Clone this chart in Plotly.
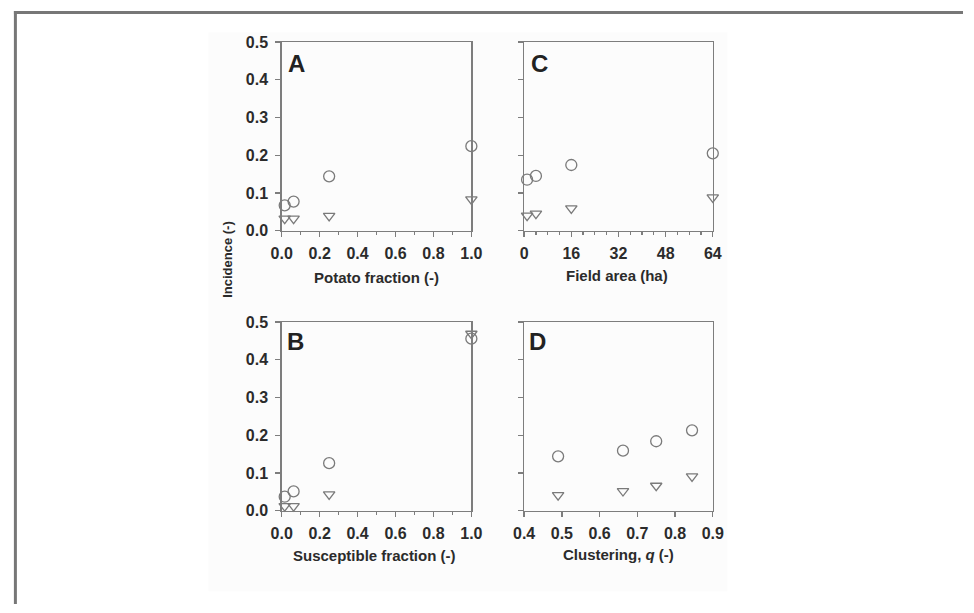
import plotly.graph_objects as go

# ---- data ----
potato_fraction = [1/64, 1/16, 0.25, 1.0]
potato_circ = [0.067, 0.077, 0.144, 0.224]
potato_tri = [0.032, 0.032, 0.039, 0.083]

field_area = [1, 4, 16, 64]
field_circ = [0.135, 0.145, 0.174, 0.205]
field_tri = [0.040, 0.045, 0.059, 0.088]

susc_fraction = [1/64, 1/16, 0.25, 1.0]
susc_circ = [0.037, 0.051, 0.126, 0.456]
susc_tri = [0.012, 0.012, 0.043, 0.469]

clustering = [0.49, 0.662, 0.75, 0.845]
clust_circ = [0.144, 0.159, 0.184, 0.213]
clust_tri = [0.041, 0.052, 0.066, 0.091]

x_ticks_fraction = [0.0, 0.2, 0.4, 0.6, 0.8, 1.0]
x_ticks_cluster = [0.4, 0.5, 0.6, 0.7, 0.8, 0.9]

W, H = 974, 613
MARK = "#7a7a7a"
AXC = "#7d7d7d"
TXT = "#2b2b2b"
FONT = "Liberation Sans"

def px(x):
    return x / W

def py(y):
    return 1 - y / H

fig = go.Figure()

panels = [
    ("x", "y", potato_fraction, potato_circ, potato_tri),
    ("x2", "y2", field_area, field_circ, field_tri),
    ("x3", "y3", susc_fraction, susc_circ, susc_tri),
    ("x4", "y4", clustering, clust_circ, clust_tri),
]
for xa, ya, xs, c, t in panels:
    fig.add_trace(go.Scatter(x=xs, y=c, mode="markers", xaxis=xa, yaxis=ya,
                             marker=dict(symbol="circle-open", size=11, color=MARK,
                                         line=dict(width=1.3, color=MARK)),
                             showlegend=False, cliponaxis=False, hoverinfo="skip"))
    fig.add_trace(go.Scatter(x=xs, y=t, mode="markers", xaxis=xa, yaxis=ya,
                             marker=dict(symbol="triangle-down-open", size=10, color=MARK,
                                         line=dict(width=1.3, color=MARK)),
                             showlegend=False, cliponaxis=False, hoverinfo="skip"))

tickfont = dict(family=FONT, size=16, color=TXT, weight="bold")

left_dom = [px(277), px(471)]
right_dom = [px(525), px(718)]
top_dom = [py(229), py(35)]
bot_dom = [py(517), py(323)]

def xax(dom, anchor, rng, dtick, minor_dtick, tickvals=None):
    d = dict(domain=dom, anchor=anchor, range=rng, showgrid=False, zeroline=False,
             showline=True, linecolor=AXC, linewidth=1.5, mirror=True,
             ticks="outside", ticklen=5, tickwidth=1.3, tickcolor=AXC,
             tickfont=tickfont, ticklabelstandoff=3)
    if tickvals is not None:
        d["tickvals"] = tickvals
        d["ticktext"] = ["%.1f" % v for v in tickvals]
    else:
        d["dtick"] = dtick
    if minor_dtick:
        d["minor"] = dict(dtick=minor_dtick, ticks="outside", ticklen=3,
                          tickcolor=AXC, tickwidth=1.2, showgrid=False)
    return d

def yax(dom, anchor, labels):
    return dict(domain=dom, anchor=anchor, range=[0, 0.5], dtick=0.1, tickformat=".1f",
                showgrid=False, zeroline=False, showline=True, linecolor=AXC,
                linewidth=1.5, mirror=True, ticks="outside", ticklen=5, tickwidth=1.3,
                tickcolor=AXC, tickfont=tickfont, showticklabels=labels,
                ticklabelstandoff=4)

fig.update_layout(
    width=W, height=H, margin=dict(l=0, r=0, t=0, b=0),
    paper_bgcolor="white", plot_bgcolor="white", hovermode=False,
    xaxis=xax(left_dom, "y", [0, 1], None, 0.1, x_ticks_fraction),
    yaxis=yax(top_dom, "x", True),
    xaxis2=xax(right_dom, "y2", [0, 64], 16, 4),
    yaxis2=yax(top_dom, "x2", False),
    xaxis3=xax(left_dom, "y3", [0, 1], None, 0.1, x_ticks_fraction),
    yaxis3=yax(bot_dom, "x3", True),
    xaxis4=xax(right_dom, "y4", [0.4, 0.9], None, None, x_ticks_cluster),
    yaxis4=yax(bot_dom, "x4", False),
)

# frame and faint scanned background
fig.add_shape(type="rect", xref="paper", yref="paper",
              x0=px(202), x1=px(733), y0=py(600), y1=py(25),
              fillcolor="#fcfcfc", line=dict(width=0), layer="below")
fig.add_shape(type="line", xref="paper", yref="paper", x0=px(3), x1=1.0,
              y0=py(4.5), y1=py(4.5), line=dict(color="#777777", width=3))
fig.add_shape(type="line", xref="paper", yref="paper", x0=px(4.5), x1=px(4.5),
              y0=py(3), y1=0.0, line=dict(color="#777777", width=3))

titlefont = dict(family=FONT, size=15, color=TXT, weight="bold")
annos = [
    ("Potato fraction (-)", 374, 277),
    ("Field area (ha)", 620, 275),
    ("Susceptible fraction (-)", 372, 563),
    ("Clustering, <i>q</i> (-)", 622, 562),
]
for txt, x, y in annos:
    fig.add_annotation(text=txt, x=px(x), y=py(y), xref="paper", yref="paper",
                       xanchor="center", yanchor="middle", showarrow=False, font=titlefont)

fig.add_annotation(text="Incidence (-)", x=px(222), y=py(258), xref="paper", yref="paper",
                   xanchor="center", yanchor="middle", showarrow=False, textangle=-90,
                   font=dict(family=FONT, size=13, color=TXT, weight="bold"))

letterfont = dict(family=FONT, size=24, color="#222222", weight="bold")
for lt, x, y in [("A", 292, 57), ("C", 541, 57), ("B", 291, 343), ("D", 539, 343)]:
    fig.add_annotation(text=lt, x=px(x), y=py(y), xref="paper", yref="paper",
                       xanchor="center", yanchor="middle", showarrow=False, font=letterfont)

fig.write_html("out.html", config={"displayModeBar": False, "staticPlot": True},
               post_script="document.body.style.margin='0';document.body.style.overflow='hidden';")
